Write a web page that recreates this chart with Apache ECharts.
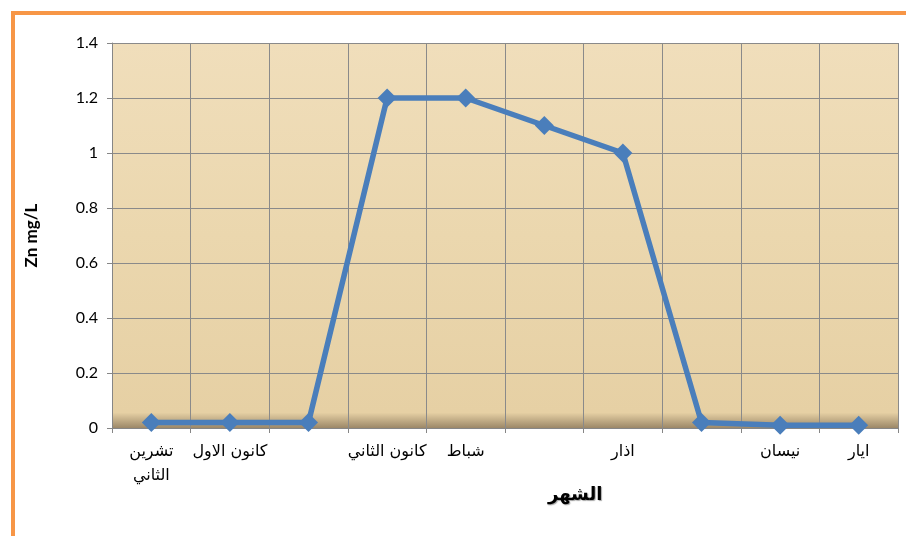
<!DOCTYPE html>
<html><head><meta charset="utf-8">
<script src="https://cdn.jsdelivr.net/npm/echarts@6/dist/echarts.min.js"></script>
<style>
html,body{margin:0;padding:0;background:#fff;overflow:hidden}
#frame{position:absolute;left:11px;top:11px;width:1000px;height:1000px;border:4px solid #F79646;box-sizing:border-box}
#c{position:absolute;left:0;top:0;width:906px;height:536px}
</style></head>
<body>
<div id="frame"></div>
<div id="c"></div>
<script>
const categories = ['تشرين\nالثاني', 'كانون الاول', '', 'كانون الثاني', 'شباط', '', 'اذار', '', 'نيسان', 'ايار'];
const znValues = [0.02, 0.02, 0.02, 1.2, 1.2, 1.1, 1.0, 0.02, 0.01, 0.01];
const yTicks = {min: 0, max: 1.4, interval: 0.2};
const yName = 'Zn mg/L';
const xName = 'الشهر';

const chart = echarts.init(document.getElementById('c'));
chart.setOption({
  animation: false,
  grid: {
    left: 112, right: 8, top: 43, bottom: 108, show: true, borderWidth: 0,
    backgroundColor: {
      type: 'linear', x: 0, y: 0, x2: 0, y2: 1,
      colorStops: [
        {offset: 0, color: '#F0DEBB'},
        {offset: 0.5, color: '#EBD7AE'},
        {offset: 0.96, color: '#E6D0A4'},
        {offset: 1, color: '#9C8868'}
      ]
    }
  },
  xAxis: {
    type: 'category', data: categories, boundaryGap: true,
    axisLine: {lineStyle: {color: '#868686', width: 1}},
    axisTick: {show: true, length: 5, interval: 0, lineStyle: {color: '#868686'}},
    axisLabel: {interval: 0, color: '#000', fontSize: 16, margin: 12, lineHeight: 24,
      fontFamily: '"DejaVu Sans", "Noto Sans", sans-serif'},
    splitLine: {show: true, interval: 0, lineStyle: {color: '#8A8A8A', width: 1}}
  },
  yAxis: {
    type: 'value', min: yTicks.min, max: yTicks.max, interval: yTicks.interval,
    name: yName, nameLocation: 'middle', nameGap: 72, nameRotate: 90,
    nameTextStyle: {fontWeight: 'bold', fontSize: 17, color: '#000', fontFamily: 'Lato, "Open Sans", sans-serif'},
    axisLine: {show: true, lineStyle: {color: '#868686'}},
    axisTick: {show: true, length: 5, lineStyle: {color: '#868686'}},
    axisLabel: {color: '#000', fontSize: 16, margin: 14, fontFamily: 'Lato, "Open Sans", sans-serif'},
    splitLine: {show: true, lineStyle: {color: '#8A8A8A', width: 1}}
  },
  graphic: [{
    type: 'text', left: 548, top: 486,
    style: {text: xName, fontSize: 18, fontWeight: 'bold', fill: '#000',
      fontFamily: '"DejaVu Sans", sans-serif', textShadowColor: 'rgba(0,0,0,0.35)', textShadowOffsetX: 1, textShadowOffsetY: 1, textShadowBlur: 1}
  }],
  series: [{
    type: 'line', data: znValues,
    symbol: 'diamond', symbolSize: 19,
    lineStyle: {color: '#4A7EBB', width: 5.5},
    itemStyle: {color: '#4A7EBB'}
  }]
});
</script>
</body></html>
